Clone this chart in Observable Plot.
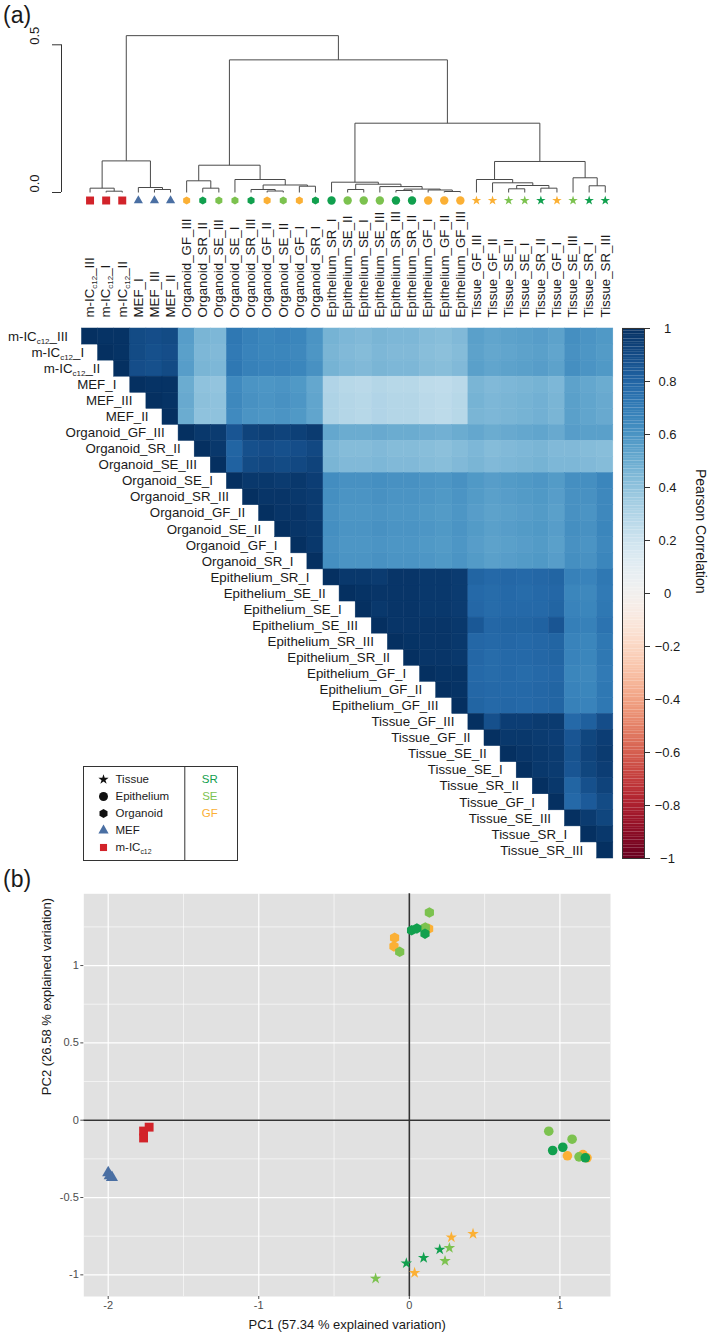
<!DOCTYPE html>
<html><head><meta charset="utf-8">
<script src="https://cdn.jsdelivr.net/npm/d3@7"></script>
<script src="https://cdn.jsdelivr.net/npm/@observablehq/plot@0.6"></script>
<style>
html,body{margin:0;padding:0;background:#fff;overflow:hidden}
#root{position:relative;width:709px;height:1335px;font-family:"Liberation Sans",Arial,Helvetica,sans-serif;color:#1a1a1a}
.plab{position:absolute;font-size:23px;line-height:1;}
</style></head><body><div id="root"><div class="plab" style="left:3px;top:4px">(a)</div><div class="plab" style="left:3px;top:868px">(b)</div></div>
<script>
// ---------- data ----------
const leafNames = ["m-IC_c12_III","m-IC_c12_I","m-IC_c12_II","MEF_I","MEF_III","MEF_II",
"Organoid_GF_III","Organoid_SR_II","Organoid_SE_III","Organoid_SE_I","Organoid_SR_III","Organoid_GF_II","Organoid_SE_II","Organoid_GF_I","Organoid_SR_I",
"Epithelium_SR_I","Epithelium_SE_II","Epithelium_SE_I","Epithelium_SE_III","Epithelium_SR_III","Epithelium_SR_II","Epithelium_GF_I","Epithelium_GF_II","Epithelium_GF_III",
"Tissue_GF_III","Tissue_GF_II","Tissue_SE_II","Tissue_SE_I","Tissue_SR_II","Tissue_GF_I","Tissue_SE_III","Tissue_SR_I","Tissue_SR_III"];

// hclust-style merges: negative = leaf (1-based, in display order), positive = earlier merge
const mergeLeft  = [-2,-1,-5,-4,2,-8,-7,-12,-11,-14,9,-10,7,-17,-20,-23,-22,15,-19,14,-16,-27,-29,22,-26,-25,-32,-31,26,21,13,5];
const mergeRight = [-3,1,-6,3,4,-9,6,-13,8,-15,10,11,12,-18,-21,-24,16,17,18,19,20,-28,-30,23,24,25,-33,27,28,29,30,31];
const mergeHeight = [0.0044,0.0146,0.0102,0.0169,0.107,0.0146,0.0396,0.005,0.0102,0.0213,0.0254,0.044,0.0924,0.0102,0.0068,0.0034,0.0085,0.0115,0.020,0.0281,0.0349,0.0125,0.0146,0.0237,0.0328,0.044,0.0227,0.0498,0.105,0.2346,0.449,0.531];
const dendroTicks = [0, 0.5];

// Pearson correlation x100, upper triangle, each row starts at its diagonal
const corrRows = [
"100 99 99 90 89 90 56 46 45 72 68 66 67 66 60 47 45 44 46 45 45 43 42 44 55 53 54 55 56 54 62 60 58",
"100 99 90 88 89 55 45 44 71 67 66 66 65 59 46 44 43 45 44 44 42 41 43 54 52 53 54 55 53 61 59 57",
"100 89 88 90 56 46 45 72 68 67 67 66 61 47 45 44 46 45 45 43 42 44 55 53 54 55 56 54 62 60 58",
"100 99 99 50 40 39 64 60 59 60 58 52 30 28 27 29 28 28 26 25 27 46 44 45 46 47 45 54 52 50",
"100 99 51 41 40 65 61 60 61 59 53 31 29 28 30 29 29 27 26 28 47 45 46 47 48 46 55 53 51",
"100 50 40 40 64 60 59 60 58 53 31 29 28 30 29 29 27 26 28 46 45 46 47 48 46 55 53 51",
"100 97 96 86 93 94 93 94 96 52 50 50 51 50 50 49 48 50 52 50 51 52 53 51 56 55 55",
"100 97 80 88 89 88 89 91 45 43 43 44 43 43 42 41 43 45 43 44 45 46 44 44 43 42",
"100 81 90 91 90 91 93 46 44 44 45 44 44 43 42 44 46 44 45 46 47 45 45 44 43",
"100 97 97 96 97 95 63 61 61 62 61 61 60 59 61 58 56 57 58 59 57 62 62 66",
"100 98 98 97 96 62 60 60 61 60 60 59 58 60 57 55 56 57 58 56 61 61 65",
"100 98 98 96 61 59 59 60 59 59 58 57 59 56 54 55 56 57 55 61 60 65",
"100 98 97 62 60 60 61 60 60 59 58 60 57 55 56 57 58 56 62 61 66",
"100 97 61 59 59 60 59 59 58 57 59 56 54 55 56 57 55 61 60 65",
"100 62 60 60 61 60 60 59 58 60 57 55 56 57 58 56 62 61 66",
"100 97 97 96 98 98 97 97 96 80 78 79 78 79 80 68 67 72",
"100 99 98 98 98 97 97 96 78 77 78 77 78 79 66 65 71",
"100 97 98 98 97 97 96 79 77 78 78 78 80 67 66 72",
"100 98 98 98 98 97 85 79 80 80 81 86 69 68 74",
"100 99 98 98 97 79 78 79 78 79 80 67 66 72",
"100 98 98 97 79 77 78 78 79 80 67 66 72",
"100 99 99 78 77 78 77 78 79 66 65 71",
"100 99 79 78 78 78 79 80 67 66 72",
"100 80 78 79 78 79 80 68 67 72",
"100 88 95 95 96 96 78 82 89",
"100 97 97 96 95 86 92 95",
"100 98 97 96 87 93 96",
"100 97 96 86 92 95",
"100 97 80 88 93",
"100 78 84 90",
"100 96 92",
"100 97",
"100"];
const colorbarTicks = [1,0.8,0.6,0.4,0.2,0,-0.2,-0.4,-0.6,-0.8,-1];

// groups / styling keys
const typeKeys = ["Tissue","Epithelium","Organoid","MEF","m-IC"];
const typeSymbols = ["star","circle","hexagon","triangle","square"];
const groupKeys = ["SR","SE","GF","MEF","m-IC"];
const groupColors = ["#11a04e","#7cc24f","#fbb035","#4a6fa3","#d2232a"];
const legendLabels = ["Tissue","Epithelium","Organoid","MEF","m-IC_c12"];
const legendFills = ["#111","#111","#111","#4a6fa3","#d2232a"];
const legendTreat = ["SR","SE","GF"];

// PCA scores
const pcaType = ["m-IC","m-IC","m-IC","MEF","MEF","MEF",
"Organoid","Organoid","Organoid","Organoid","Organoid","Organoid","Organoid","Organoid","Organoid",
"Epithelium","Epithelium","Epithelium","Epithelium","Epithelium","Epithelium","Epithelium","Epithelium","Epithelium",
"Tissue","Tissue","Tissue","Tissue","Tissue","Tissue","Tissue","Tissue","Tissue"];
const pcaKey = ["m-IC","m-IC","m-IC","MEF","MEF","MEF",
"GF","GF","GF","SE","SE","SE","SR","SR","SR",
"GF","GF","GF","SE","SE","SE","SR","SR","SR",
"GF","GF","GF","SE","SE","SE","SR","SR","SR"];
const pc1 = [-1.765,-1.765,-1.728,-2.000,-1.990,-1.975,
0.128,-0.098,-0.102,0.133,0.106,-0.064,0.015,0.050,0.104,
1.050,1.153,1.180,0.926,1.081,1.127,0.952,1.019,1.169,
0.423,0.279,0.035,0.266,0.237,-0.224,0.202,0.095,-0.020];
const pc2 = [-0.070,-0.115,-0.045,-0.340,-0.360,-0.370,
1.238,1.180,1.124,1.343,1.246,1.089,1.228,1.240,1.206,
-0.230,-0.222,-0.243,-0.071,-0.123,-0.237,-0.196,-0.175,-0.243,
-0.735,-0.757,-0.987,-0.826,-0.910,-1.024,-0.836,-0.890,-0.925];
const pcaXMajor = [-2,-1,0,1], pcaXMinor = [-1.5,-0.5,0.5];
const pcaYMajor = [-1,-0.5,0,0.5,1], pcaYMinor = [-0.75,-0.25,0.25,0.75,1.25];

// ---------- helpers ----------
const FONT = '"Liberation Sans", Arial, Helvetica, sans-serif';
const baseStyle = {background: "none", fontFamily: FONT, fontSize: "13px", color: "#1a1a1a", overflow: "visible"};
const root = document.getElementById("root");
function place(svg, top, left = 0) {
  svg.style.position = "absolute"; svg.style.top = top + "px"; svg.style.left = left + "px";
  fixSub(svg); root.appendChild(svg);
}
function fixSub(svg) {
  d3.select(svg).selectAll("text").each(function () {
    const m = (this.textContent || "").match(/^(m-IC)_c12(.*)$/);
    if (!m) return;
    const sel = d3.select(this); sel.text(null);
    sel.append("tspan").text(m[1]);
    sel.append("tspan").attr("font-size", "0.6em").attr("dy", 3).text("c12");
    if (m[2]) sel.append("tspan").attr("dy", -3).text(m[2]);
  });
}
const typeOf = n => n.startsWith("m-IC") ? "m-IC" : n.split("_")[0];
const keyOf = n => { const t = typeOf(n); return (t === "m-IC" || t === "MEF") ? t : n.split("_")[1]; };

// ---------- dendrogram ----------
const leaves = leafNames.map((name, i) => ({name, i, type: typeOf(name), key: keyOf(name)}));
const nodeX = [], nodeH = [], segs = [];
const pos = c => c < 0 ? {x: -c - 1, h: 0} : {x: nodeX[c - 1], h: nodeH[c - 1]};
mergeLeft.forEach((l, k) => {
  const a = pos(l), b = pos(mergeRight[k]), h = mergeHeight[k];
  nodeX[k] = (a.x + b.x) / 2; nodeH[k] = h;
  segs.push({x1: a.x, y1: a.h, x2: a.x, y2: h}, {x1: a.x, y1: h, x2: b.x, y2: h}, {x1: b.x, y1: b.h, x2: b.x, y2: h});
});
const leafR = {"m-IC": 4.5, "MEF": 3.4, "Organoid": 3.5, "Epithelium": 4.2, "Tissue": 3};

const dendro = Plot.plot({
  width: 709, height: 330, marginLeft: 81.5, marginRight: 96.2, marginTop: 0, marginBottom: 0,
  x: {domain: [-0.5, 32.5], axis: null},
  y: {domain: [0, 0.5], range: [192, 44.3], axis: null},
  color: {domain: groupKeys, range: groupColors},
  symbol: {domain: typeKeys, range: typeSymbols},
  r: {type: "identity"},
  style: baseStyle,
  marks: [
    Plot.link(segs, {x1: "x1", y1: "y1", x2: "x2", y2: "y2", stroke: "#4a4a4a", strokeWidth: 1}),
    Plot.ruleX([-0.5], {y1: 0, y2: 0.5, dx: -20.5, stroke: "#333"}),
    Plot.axisY({ticks: dendroTicks, tickSize: 9, dx: -20.5, tickFormat: () => "", label: null, stroke: "#333"}),
    Plot.text(dendroTicks, {y: d => d, frameAnchor: "left", dx: -47, rotate: -90, text: d => d.toFixed(1), fontSize: 13}),
    Plot.dot(leaves, {x: "i", y: () => 0, dy: 8, symbol: "type", fill: "key", r: d => leafR[d.type]}),
    Plot.text(leaves, {x: "i", y: () => 0, dy: 125, rotate: -90, textAnchor: "start", text: "name", fontSize: 13.3})
  ]
});

// ---------- heatmap ----------
const cells = [];
corrRows.forEach((row, i) => {
  const vals = row.trim().split(/\s+/).map(Number);
  if (vals.length !== 33 - i) throw new Error("row " + i + " has " + vals.length);
  vals.forEach((v, k) => cells.push({row: leafNames[i], col: leafNames[i + k], value: v / 100}));
});
const heat = Plot.plot({
  width: 709, height: 870, marginLeft: 81.5, marginRight: 96.2, marginTop: 328, marginBottom: 12,
  x: {domain: leafNames, padding: 0, round: false, axis: null},
  y: {domain: leafNames, padding: 0, round: false, axis: null},
  color: {type: "linear", scheme: "RdBu", domain: [-1, 1]},
  style: baseStyle,
  marks: [
    Plot.cell(cells, {x: "col", y: "row", fill: "value", stroke: "value", strokeWidth: 0.5}),
    Plot.text(leafNames, {x: d => d, y: d => d, dx: -22, textAnchor: "end", text: d => d, fontSize: 13.3})
  ]
});

// ---------- colour bar ----------
const cbSteps = d3.range(-1, 1, 0.01);
const cbar = Plot.plot({
  width: 709, height: 870, marginLeft: 622, marginRight: 65, marginTop: 328, marginBottom: 12,
  x: {domain: [0, 1], axis: null},
  y: {domain: [-1, 1], axis: null},
  color: {type: "linear", scheme: "RdBu", domain: [-1, 1]},
  style: baseStyle,
  marks: [
    Plot.rect(cbSteps, {x1: () => 0, x2: () => 1, y1: d => d, y2: d => d + 0.0102, fill: d => d + 0.005}),
    Plot.frame({stroke: "#333", strokeWidth: 1}),
    Plot.axisY({anchor: "right", ticks: colorbarTicks, tickSize: 5, tickFormat: () => "", label: null, stroke: "#333"}),
    Plot.text(colorbarTicks, {y: d => d, frameAnchor: "right", dx: 23, textAnchor: "middle", text: d => d < 0 ? "\u2212" + Math.abs(d) : String(d), fontSize: 13}),
    Plot.text(["Pearson Correlation"], {frameAnchor: "right", dx: 56, rotate: 90, text: d => d, fontSize: 14})
  ]
});

// ---------- shape / treatment legend ----------
const legendR = {"Tissue": 3.2, "Epithelium": 4.5, "Organoid": 4, "MEF": 3.8, "m-IC": 4};
const legend = Plot.plot({
  width: 154, height: 94, marginLeft: 0, marginRight: 0, marginTop: 0, marginBottom: 0,
  x: {domain: [0, 1], axis: null},
  y: {domain: typeKeys, insetTop: 4.5, insetBottom: 4.5, axis: null},
  symbol: {domain: typeKeys, range: typeSymbols},
  color: {type: "identity"},
  r: {type: "identity"},
  style: baseStyle,
  marks: [
    Plot.frame({stroke: "#333", strokeWidth: 1}),
    Plot.ruleX([0], {dx: 101.3, stroke: "#333"}),
    Plot.dot(typeKeys, {x: () => 0, y: d => d, dx: 20, symbol: d => d, fill: (d, i) => legendFills[i], r: d => legendR[d]}),
    Plot.text(typeKeys, {x: () => 0, y: d => d, dx: 32, textAnchor: "start", text: (d, i) => legendLabels[i], fontSize: 11.5}),
    Plot.text(legendTreat, {x: () => 0, y: (d, i) => typeKeys[i], dx: 126.3, textAnchor: "middle", text: d => d, fill: (d, i) => groupColors[i], fontSize: 11.5})
  ]
});

// ---------- PCA ----------
const pcaPts = pc1.map((x, i) => ({x, y: pc2[i], type: pcaType[i], key: pcaKey[i]}));
const pcaR = {"m-IC": 5, "MEF": 4.5, "Organoid": 4.6, "Epithelium": 4.8, "Tissue": 3.6};
const fmt = d => String(d);
const pca = Plot.plot({
  width: 709, height: 455, marginLeft: 83.3, marginRight: 99, marginTop: 13.3, marginBottom: 39,
  x: {domain: [-2.162, 1.336]},
  y: {domain: [-1.140, 1.464]},
  color: {domain: groupKeys, range: groupColors},
  symbol: {domain: typeKeys, range: typeSymbols},
  r: {type: "identity"},
  style: baseStyle,
  marks: [
    Plot.frame({fill: "#e1e1e1"}),
    Plot.ruleX(pcaXMinor, {x: d => d, stroke: "#fff", strokeWidth: 0.6}),
    Plot.ruleY(pcaYMinor, {y: d => d, stroke: "#fff", strokeWidth: 0.6}),
    Plot.ruleX(pcaXMajor, {x: d => d, stroke: "#fff", strokeWidth: 1.2}),
    Plot.ruleY(pcaYMajor, {y: d => d, stroke: "#fff", strokeWidth: 1.2}),
    Plot.ruleX([0], {x: d => d, stroke: "#333", strokeWidth: 1.6}),
    Plot.ruleY([0], {y: d => d, stroke: "#333", strokeWidth: 1.6}),
    Plot.dot(pcaPts, {x: "x", y: "y", symbol: "type", fill: "key", r: d => pcaR[d.type]}),
    Plot.axisX({ticks: pcaXMajor, tickSize: 3, tickPadding: 2, tickFormat: fmt, label: null, fontSize: 11, color: "#4d4d4d"}),
    Plot.axisY({ticks: pcaYMajor, tickSize: 3, tickPadding: 2, tickFormat: fmt, label: null, fontSize: 11, color: "#4d4d4d"}),
    Plot.text(["PC1 (57.34 % explained variation)"], {frameAnchor: "bottom", dy: 32, text: d => d, fontSize: 13}),
    Plot.text(["PC2 (26.58 % explained variation)"], {frameAnchor: "left", dx: -36.6, rotate: -90, text: d => d, fontSize: 13})
  ]
});

place(heat, 0);
place(cbar, 0);
place(dendro, 0);
place(legend, 766, 83);
place(pca, 880);
</script></body></html>
